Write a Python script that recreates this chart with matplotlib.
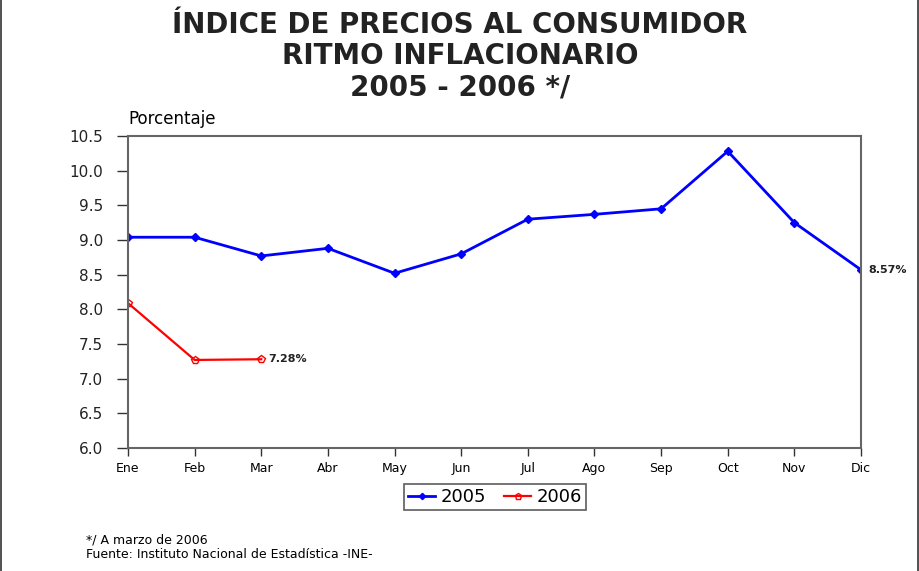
import matplotlib.pyplot as plt
import numpy as np

g_months = ["Ene", "Feb", "Mar", "Abr", "May", "Jun", "Jul", "Ago", "Sep", "Oct", "Nov", "Dic"]
g_values_2005 = [9.04, 9.04, 8.77, 8.88, 8.52, 8.80, 9.30, 9.37, 9.45, 10.28, 9.25, 8.57]
g_values_2006 = [8.09, 7.27, 7.28]
g_yticks = [6.0, 6.5, 7.0, 7.5, 8.0, 8.5, 9.0, 9.5, 10.0, 10.5]

g_color_1 = "#0000ff"
g_color_2 = "#ff0000"
g_axis_color = "#666666"


def main():
    fig = plt.figure(figsize=(9.2, 5.71), dpi=100)
    ax = fig.add_axes([128 / 920, 1 - 448 / 571, (861 - 128) / 920, (448 - 136) / 571])

    x = np.arange(len(g_months))
    ax.plot(x, g_values_2005, "-", color=g_color_1, linewidth=2.0, marker="D", markersize=4,
            markerfacecolor=g_color_1, markeredgecolor=g_color_1, label="2005")
    x2 = np.arange(len(g_values_2006))
    ax.plot(x2, g_values_2006, "-", color=g_color_2, linewidth=1.6, marker="p", markersize=6,
            markerfacecolor="none", markeredgecolor=g_color_2, label="2006")

    # End labels.
    ax.annotate("%.2f%%" % g_values_2005[-1], (x[-1], g_values_2005[-1]), xytext=(5, 0),
                textcoords="offset points", va="center", ha="left", fontsize=8, fontweight="bold",
                color="#222222", annotation_clip=False)
    ax.annotate("%.2f%%" % g_values_2006[-1], (x2[-1], g_values_2006[-1]), xytext=(5, 0),
                textcoords="offset points", va="center", ha="left", fontsize=8, fontweight="bold",
                color="#222222")

    ax.set_xlim(0, len(g_months) - 1)
    ax.set_ylim(6.0, 10.5)
    ax.set_xticks(x)
    ax.set_xticklabels(g_months, fontsize=9)
    ax.set_yticks(g_yticks)
    ax.set_yticklabels(["%.1f" % v for v in g_yticks], fontsize=11, color="#222222")
    ax.tick_params(axis="y", color="#333333", length=8, width=1, pad=10)
    ax.tick_params(axis="x", color="#333333", length=6, width=1, pad=4)
    for side in ["left", "right", "bottom", "top"]:
        ax.spines[side].set_color(g_axis_color)
        ax.spines[side].set_linewidth(1.5)

    ax.text(0.0, 10.62, "Porcentaje", fontsize=12, ha="left", va="bottom", transform=ax.transData)

    # Title.
    title_lines = ["ÍNDICE DE PRECIOS AL CONSUMIDOR", "RITMO INFLACIONARIO", "2005 - 2006 */"]
    for i, line in enumerate(title_lines):
        fig.text(0.5, 1 - (25 + 31 * i) / 571, line, ha="center", va="center",
                 fontsize=20, fontweight="bold", color="#222222")

    leg = fig.legend(loc="center", bbox_to_anchor=(495 / 920, 1 - 497 / 571), ncol=2, fontsize=13,
                     frameon=True, fancybox=False, handlelength=1.5, handletextpad=0.3,
                     columnspacing=1.0, borderpad=0.2, markerscale=0.8)
    leg.get_frame().set_edgecolor("#333333")
    leg.get_frame().set_linewidth(1.2)

    fig.text(86 / 920, 1 - 540 / 571, "*/ A marzo de 2006", fontsize=9, va="center", ha="left")
    fig.text(86 / 920, 1 - 554 / 571, "Fuente: Instituto Nacional de Estadística -INE-", fontsize=9,
             va="center", ha="left")

    # Outer frame.
    fig.patches.append(plt.Rectangle((0.001, -0.01), 0.997, 1.02, transform=fig.transFigure,
                                     fill=False, edgecolor="#333333", linewidth=1.2))

    plt.savefig("out.png", dpi=100)


if __name__ == "__main__":
    main()
